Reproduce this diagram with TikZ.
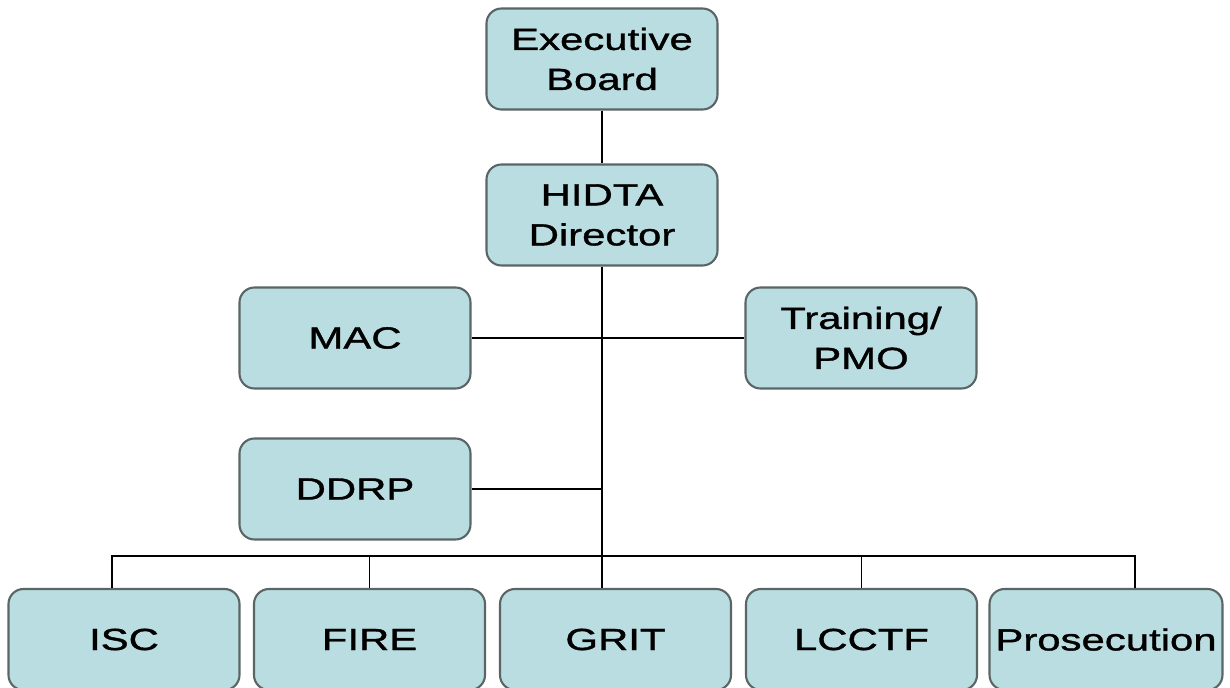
\documentclass[tikz,border=0pt]{standalone}
\usepackage{fontspec}
\setmainfont[FakeStretch=1.37, FakeBold=1.2]{Liberation Sans}
\definecolor{boxfill}{RGB}{185,221,224}
\definecolor{boxline}{RGB}{90,102,102}
\tikzset{
    orgbox/.style={draw=boxline, fill=boxfill, line width=1.2pt,
    	rounded corners=0.3cm, minimum width=4.62cm, minimum height=2.02cm,
    	align=center, font=\fontsize{17.4}{22.8}\selectfont},
    link/.style={line width=1.1pt}
}

\begin{document}
\begin{tikzpicture}
	\useasboundingbox (0,0) rectangle (24.6,13.74);
	\node [orgbox] (exec) at (12.04,12.56) {Executive\\Board};
	\node [orgbox] (hidta) at (12.04,9.44) {HIDTA\\Director};
	\node [orgbox] (mac) at (7.10,6.98) {MAC};
	\node [orgbox] (train) at (17.22,6.98) {Training/\\PMO};
	\node [orgbox] (ddrp) at (7.10,3.96) {DDRP};
	\node [orgbox] (isc) at (2.48,0.95) {ISC};
	\node [orgbox] (fire) at (7.39,0.95) {FIRE};
	\node [orgbox] (grit) at (12.31,0.95) {GRIT};
	\node [orgbox] (lcctf) at (17.23,0.95) {LCCTF};
	\node [orgbox] (pros) at (22.12,0.95) {Prosecution};
	\coordinate (busL) at (2.24,2.62);
	\coordinate (busR) at (22.70,2.62);
	\draw [link] (exec) -- (hidta);
	\draw [link] (hidta.south) -- (hidta.south |- grit.north);
	\draw [link] (mac) -- (train);
	\draw [link] (ddrp) -- (ddrp -| hidta.south);
	\draw [link] (busL |- isc.north) -- (busL) -- (busR) -- (busR |- pros.north);
	\draw [link] (fire.north) -- (fire.north |- busL);
	\draw [link] (lcctf.north) -- (lcctf.north |- busL);
\end{tikzpicture}
\end{document}
